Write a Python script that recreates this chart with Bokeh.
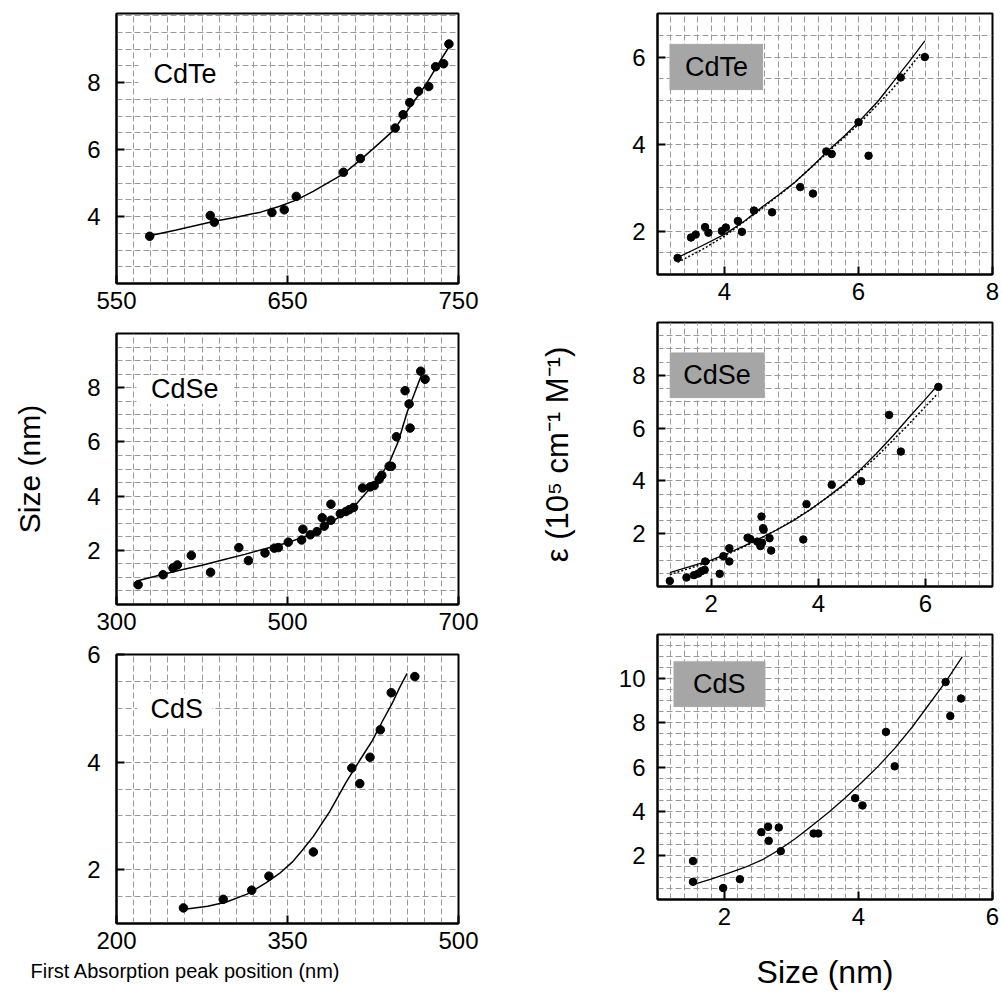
import numpy as np
from bokeh.plotting import figure
from bokeh.layouts import row, column
from bokeh.models import FixedTicker, Label, BoxAnnotation, Range1d, Title
from bokeh.embed import file_html
from bokeh.resources import INLINE

FONT = "Liberation Sans"

# ---------------- data ----------------
# Left: size vs first absorption peak
cdte_wl = [569.4, 604.8, 607.2, 640.9, 648.1, 655.1, 682.7, 692.6, 713.0, 717.6, 721.5, 726.6, 732.6, 736.6, 741.3, 744.4]
cdte_size = [3.41, 4.03, 3.83, 4.12, 4.20, 4.60, 5.32, 5.73, 6.64, 7.04, 7.40, 7.74, 7.88, 8.47, 8.56, 9.15]
cdte_fit_wl = [570.0, 585.0, 607.2, 620.0, 634.3, 645.0, 655.1, 665.0, 682.7, 692.6, 700.0, 712.0, 721.5, 727.0, 731.2, 738.0, 744.4]
cdte_fit_size = [3.43, 3.60, 3.86, 3.98, 4.13, 4.30, 4.49, 4.75, 5.27, 5.69, 6.02, 6.57, 7.26, 7.65, 7.96, 8.54, 9.06]

cdse_wl = [325.3, 354.4, 366.1, 371.2, 387.5, 410.0, 443.1, 454.3, 473.7, 484.6, 489.3, 500.9,
           516.5, 518.0, 526.6, 534.4, 540.6, 543.0, 550.8, 550.8, 561.7, 568.3, 572.2, 577.3,
           587.8, 596.7, 601.4, 607.2, 610.3, 618.9, 621.6, 627.4, 637.5, 642.2, 643.4, 655.8, 660.9]
cdse_size = [0.73, 1.10, 1.35, 1.46, 1.81, 1.19, 2.10, 1.62, 1.90, 2.08, 2.10, 2.30,
             2.38, 2.78, 2.57, 2.69, 3.20, 2.89, 3.70, 3.11, 3.35, 3.43, 3.50, 3.58,
             4.30, 4.34, 4.39, 4.62, 4.77, 5.10, 5.10, 6.19, 7.89, 7.40, 6.51, 8.61, 8.31]
cdse_fit_wl = [325, 350, 375, 400, 425, 450, 475, 500, 515, 530, 545, 560, 570, 580, 590, 600, 610, 620, 630, 640, 648, 657]
cdse_fit_size = [0.88, 1.08, 1.27, 1.45, 1.65, 1.85, 2.07, 2.28, 2.45, 2.61, 2.90, 3.22, 3.43, 3.69, 4.05, 4.40, 4.80, 5.30, 6.05, 7.10, 7.75, 8.50]

cds_wl = [258.7, 293.6, 318.6, 333.7, 372.7, 406.4, 413.4, 422.4, 431.4, 441.0, 461.7]
cds_size = [1.29, 1.45, 1.62, 1.88, 2.33, 3.89, 3.60, 4.09, 4.60, 5.29, 5.59]
cds_fit_wl = [261.6, 280.0, 296.5, 315.0, 331.4, 343.0, 354.6, 363.0, 372.7, 387.0, 401.2, 413.0, 424.4, 433.0, 441.8, 448.0, 454.9]
cds_fit_size = [1.27, 1.32, 1.40, 1.55, 1.76, 1.93, 2.15, 2.36, 2.62, 3.08, 3.62, 4.02, 4.40, 4.75, 5.09, 5.37, 5.65]

# Right: extinction coefficient vs size
cdte_d = [3.30, 3.50, 3.57, 3.71, 3.76, 3.96, 4.02, 4.20, 4.26, 4.44, 4.71, 5.13, 5.32, 5.52, 5.60, 6.00, 6.15, 6.63, 6.99]
cdte_eps = [1.38, 1.85, 1.92, 2.09, 1.96, 2.00, 2.08, 2.23, 1.98, 2.47, 2.43, 3.01, 2.86, 3.83, 3.77, 4.50, 3.73, 5.53, 6.00]
cdte_fit_d = [3.30, 3.65, 4.02, 4.30, 4.56, 4.80, 5.05, 5.30, 5.55, 5.80, 6.04, 6.30, 6.53, 6.76, 6.99]
cdte_fit_eps = [1.39, 1.65, 1.94, 2.23, 2.55, 2.82, 3.12, 3.47, 3.85, 4.20, 4.57, 5.00, 5.45, 5.90, 6.37]
cdte_fit2_d = [3.30, 3.65, 4.00, 4.50, 5.00, 5.50, 6.00, 6.50, 6.93]
cdte_fit2_eps = [1.28, 1.56, 1.88, 2.45, 3.05, 3.75, 4.45, 5.25, 6.08]

cdse_d = [1.23, 1.54, 1.68, 1.76, 1.82, 1.88, 1.89, 2.16, 2.23, 2.34, 2.34, 2.68, 2.73, 2.86,
          2.92, 2.94, 2.97, 2.98, 2.95, 3.09, 3.12, 3.72, 3.78, 4.25, 4.80, 5.32, 5.54, 6.24]
cdse_eps = [0.21, 0.34, 0.43, 0.49, 0.58, 0.63, 0.95, 0.48, 1.15, 1.45, 0.95, 1.85, 1.80, 1.70,
            1.53, 2.65, 2.21, 2.15, 1.66, 1.83, 1.36, 1.78, 3.12, 3.85, 3.99, 6.50, 5.11, 7.56]
cdse_fit_d = [1.23, 1.60, 2.00, 2.30, 2.61, 2.92, 3.23, 3.54, 3.84, 4.15, 4.46, 4.77, 5.08, 5.39, 5.69, 5.97, 6.24]
cdse_fit_eps = [0.53, 0.75, 1.00, 1.25, 1.53, 1.83, 2.15, 2.50, 2.90, 3.35, 3.84, 4.40, 5.03, 5.70, 6.40, 7.03, 7.65]
cdse_fit2_d = [1.23, 2.00, 2.61, 3.23, 3.84, 4.46, 5.08, 5.69, 6.21]
cdse_fit2_eps = [0.45, 0.95, 1.50, 2.15, 2.90, 3.80, 4.90, 6.15, 7.27]

cds_d = [1.53, 1.53, 1.98, 2.23, 2.55, 2.65, 2.66, 2.81, 2.84, 3.33, 3.40, 3.95, 4.06, 4.41, 4.54, 5.30, 5.37, 5.53]
cds_eps = [1.74, 0.80, 0.52, 0.92, 3.05, 3.29, 2.66, 3.26, 2.19, 2.99, 2.99, 4.59, 4.26, 7.59, 6.03, 9.85, 8.31, 9.10]
cds_fit_d = [1.53, 1.80, 2.06, 2.30, 2.56, 2.80, 3.06, 3.30, 3.56, 3.80, 4.05, 4.30, 4.55, 4.80, 5.05, 5.30, 5.55]
cds_fit_eps = [0.67, 0.92, 1.19, 1.45, 1.79, 2.22, 2.76, 3.33, 3.96, 4.60, 5.31, 6.05, 6.88, 7.80, 8.83, 9.85, 11.0]

# tick labels
t_cdte_wl = [550, 650, 750]
t_cdse_wl = [300, 500, 700]
t_cds_wl = [200, 350, 500]
t_cdte_size = [4, 6, 8]
t_cdse_size = [2, 4, 6, 8]
t_cds_size = [2, 4, 6]
t_cdte_d = [4, 6, 8]
t_cdse_d = [2, 4, 6]
t_cds_d = [2, 4, 6]
t_cdte_eps = [2, 4, 6]
t_cdse_eps = [2, 4, 6, 8]
t_cds_eps = [2, 4, 6, 8, 10]


def grid_ticks(lo, hi, step):
    return [float(v) for v in np.arange(lo + step, hi - 1e-9, step)]


def make_fig(width, height, borders, xr, yr, xticks, yticks, xstep, ystep, ystand):
    l, r, t, b = borders
    p = figure(width=width, height=height, x_range=Range1d(*xr), y_range=Range1d(*yr),
               output_backend="svg", toolbar_location=None, title=None,
               min_border_left=l, min_border_right=r, min_border_top=t, min_border_bottom=b)
    p.outline_line_color = "black"
    p.outline_line_width = 2
    p.background_fill_color = "white"
    for ax in (p.xaxis[0], p.yaxis[0]):
        ax.major_tick_in = 8
        ax.major_tick_out = 0
        ax.minor_tick_line_color = None
        ax.axis_line_color = "black"
        ax.axis_line_width = 2
        ax.major_tick_line_color = "black"
        ax.major_tick_line_width = 2
        ax.major_label_text_font = FONT
        ax.major_label_text_font_size = "24px"
        ax.major_label_text_color = "black"
        ax.axis_label_text_font = FONT
        ax.axis_label_text_font_style = "normal"
        ax.axis_label_text_color = "black"
    p.xaxis.ticker = FixedTicker(ticks=xticks)
    p.yaxis.ticker = FixedTicker(ticks=yticks)
    p.xaxis.major_label_standoff = 8
    p.yaxis.major_label_standoff = ystand
    p.xgrid.ticker = FixedTicker(ticks=grid_ticks(xr[0], xr[1], xstep))
    p.ygrid.ticker = FixedTicker(ticks=grid_ticks(yr[0], yr[1], ystep))
    for g in (p.xgrid[0], p.ygrid[0]):
        g.grid_line_color = "#9a9a9a"
        g.grid_line_dash = "6 3"
        g.grid_line_width = 1
    return p


def white_label(p, box, x, y, text):
    l, r, t, b = box
    p.add_layout(BoxAnnotation(left=l, right=r, top=t, bottom=b, fill_color="white",
                               fill_alpha=1, line_color=None))
    p.add_layout(Label(x=x, y=y, text=text, text_font=FONT, text_font_size="27px",
                       text_align="center", text_baseline="middle", text_color="black"))


def gray_label(p, box, x, y, text):
    l, r, t, b = box
    p.add_layout(BoxAnnotation(left=l, right=r, top=t, bottom=b, fill_color="#a6a6a6",
                               fill_alpha=1, line_color="#c4c4c4", line_width=1))
    p.add_layout(Label(x=x, y=y, text=text, text_font=FONT, text_font_size="27px",
                       text_align="center", text_baseline="middle", text_color="black"))


# ---------------- left column ----------------
f1 = make_fig(520, 325, (115, 61, 13, 42), (550, 750), (2, 10.06), t_cdte_wl, t_cdte_size, 10, 0.5, 16)
white_label(f1, (562.8, 618.6, 8.75, 7.55), 590.1, 8.24, "CdTe")
f1.line(cdte_fit_wl, cdte_fit_size, line_color="black", line_width=1.5)
f1.scatter(cdte_wl, cdte_size, size=8.5, color="black")

f2 = make_fig(520, 316, (115, 62, 8, 37), (300, 700), (0, 10), t_cdse_wl, t_cdse_size, 20, 0.5, 16)
white_label(f2, (323.3, 437.6, 8.47, 7.40), 379.9, 7.95, "CdSe")
f2.line(cdse_fit_wl, cdse_fit_size, line_color="black", line_width=1.5)
f2.scatter(cdse_wl, cdse_size, size=8.5, color="black")
f2.yaxis.axis_label = "Size (nm)"
f2.yaxis.axis_label_text_font_size = "30px"
f2.yaxis.axis_label_standoff = 38

f3 = make_fig(520, 355, (116, 60, 13, 73), (200, 500), (1, 6), t_cds_wl, t_cds_size, 15, 0.5, 16)
white_label(f3, (218.3, 283.7, 5.28, 4.65), 252.9, 4.98, "CdS")
f3.line(cds_fit_wl, cds_fit_size, line_color="black", line_width=1.5)
f3.scatter(cds_wl, cds_size, size=8.5, color="black")
f3.add_layout(Title(text="First Absorption peak position (nm)", align="left", offset=-86,
                    text_font=FONT, text_font_size="20px", text_font_style="normal",
                    text_color="black", standoff=12, vertical_align="bottom"), "below")

# ---------------- right column ----------------
f4 = make_fig(482, 312, (136, 10, 13, 38), (3, 8), (1, 7), t_cdte_d, t_cdte_eps, 0.2, 0.5, 12)
gray_label(f4, (3.18, 4.575, 6.30, 5.24), 3.88, 5.77, "CdTe")
f4.line(cdte_fit2_d, cdte_fit2_eps, line_color="black", line_width=1.5, line_dash="2 2")
f4.line(cdte_fit_d, cdte_fit_eps, line_color="black", line_width=1.3)
f4.scatter(cdte_d, cdte_eps, size=7.5, color="black")

f5 = make_fig(482, 313, (137, 9, 10, 39), (1, 7.25), (0, 10), t_cdse_d, t_cdse_eps, 0.25, 0.5, 12)
gray_label(f5, (1.23, 3.0, 8.86, 7.14), 2.11, 8.0, "CdSe")
f5.line(cdse_fit2_d, cdse_fit2_eps, line_color="black", line_width=1.5, line_dash="2 2")
f5.line(cdse_fit_d, cdse_fit_eps, line_color="black", line_width=1.3)
f5.scatter(cdse_d, cdse_eps, size=7.5, color="black")
f5.yaxis.axis_label = "\u03b5 (10\u2075 cm\u207b\u00b9 M\u207b\u00b9)"
f5.yaxis.axis_label_text_font_size = "31px"
f5.yaxis.axis_label_standoff = 54

f6 = make_fig(482, 373, (134, 9, 9, 99), (1, 6), (0, 12), t_cds_d, t_cds_eps, 0.2, 0.5, 12)
gray_label(f6, (1.24, 2.61, 10.79, 8.72), 1.92, 9.75, "CdS")
f6.line(cds_fit_d, cds_fit_eps, line_color="black", line_width=1.3)
f6.scatter(cds_d, cds_eps, size=7.5, color="black")
f6.xaxis.axis_label = "Size (nm)"
f6.xaxis.axis_label_text_font_size = "32px"
f6.xaxis.axis_label_standoff = 26

layout = row(column(f1, f2, f3), column(f4, f5, f6))

open("out.html", "w").write(file_html(layout, INLINE))
